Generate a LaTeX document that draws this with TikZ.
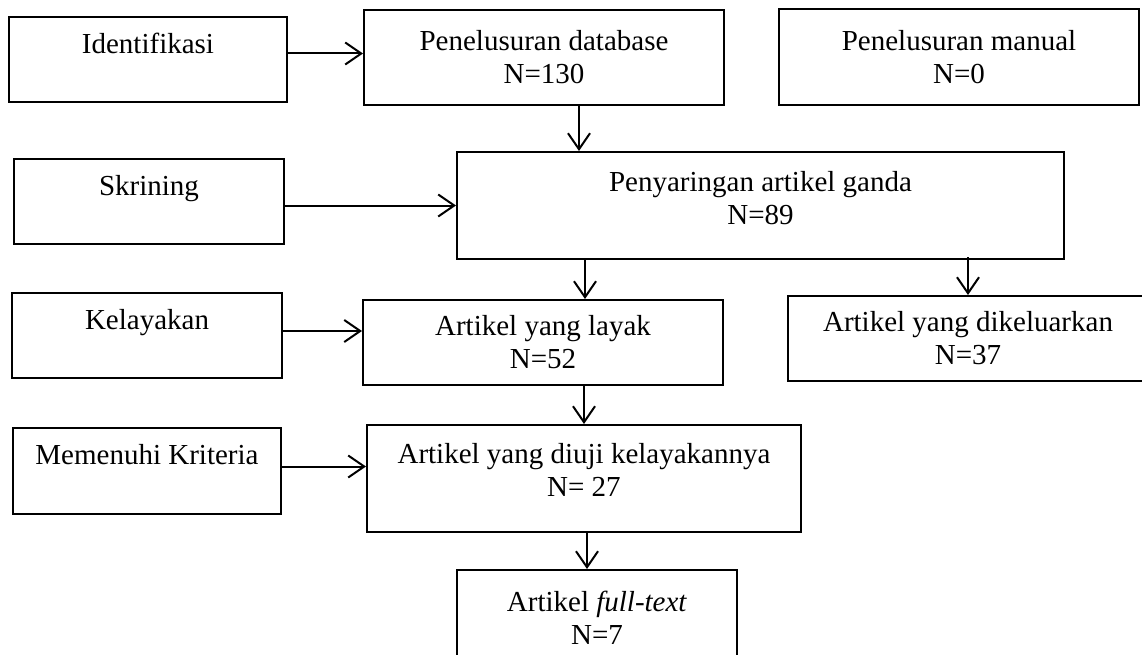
\documentclass[tikz,border=0pt]{standalone}
\usepackage{fontspec}
\setmainfont{Liberation Serif}
\usetikzlibrary{arrows.meta,positioning}
\tikzset{>={Straight Barb[length=16pt,width=22pt]}}
\tikzset{kotak/.style={draw=black, line width=2pt, align=center, inner sep=0pt, font=\fontsize{29}{33}\selectfont}}

\begin{document}
\begin{tikzpicture}[x=1pt,y=-1pt,line width=2pt]
\useasboundingbox (0,0) rectangle (1142,655);
% tahapan di kiri
\node[kotak, minimum width=278pt, minimum height=85pt] (ident) at (148,59.5) {Identifikasi\\ \mbox{}};
\node[kotak, minimum width=270pt, minimum height=85pt] (skrin) at (149,201.5) {Skrining\\ \mbox{}};
\node[kotak, minimum width=270pt, minimum height=85pt] (kelay) at (147,335.5) {Kelayakan\\ \mbox{}};
\node[kotak, minimum width=268pt, minimum height=86pt] (memen) at (147,471) {Memenuhi Kriteria\\ \mbox{}};
% hasil penelusuran
\node[kotak, minimum width=360pt, minimum height=95pt] (db) at (544,57.5) {Penelusuran database\\ N=130};
\node[kotak, minimum width=360pt, minimum height=96pt] (manual) at (959,57) {Penelusuran manual\\ N=0};
\node[kotak, minimum width=607pt, minimum height=107pt, text depth=15pt] (pany) at (760.5,205.5) {Penyaringan artikel ganda\\ N=89};
\node[kotak, minimum width=360pt, minimum height=85pt] (layak) at (543,342.5) {Artikel yang layak\\ N=52};
\node[kotak, minimum width=360pt, minimum height=85pt] (dikel) at (968,338.5) {Artikel yang dikeluarkan\\ N=37};
\node[kotak, minimum width=434pt, minimum height=107pt, text depth=17pt] (diuji) at (584,478.5) {Artikel yang diuji kelayakannya\\ N= 27};
\node[kotak, minimum width=280pt, minimum height=96pt] (fullt) at (597,618) {Artikel \textit{full-text}\\ N=7};
% panah
\draw[->] ([yshift=6pt]ident.east) -- ([yshift=6pt]ident.east -| db.west);
\draw[->] ([yshift=-4pt]skrin.east) -- ([yshift=-4pt]skrin.east -| pany.west);
\draw[->] ([yshift=4.5pt]kelay.east) -- ([yshift=4.5pt]kelay.east -| layak.west);
\draw[->] ([yshift=4.5pt]memen.east) -- ([yshift=4.5pt]memen.east -| diuji.west);
\draw[->] ([xshift=35pt]db.south) -- ([xshift=35pt]db.south |- pany.north);
\draw[->] ([xshift=42pt]layak.north |- pany.south) -- ([xshift=42pt]layak.north);
\draw[->] ([yshift=3pt]dikel.north |- pany.south) -- (dikel.north);
\draw[->] (diuji.north |- layak.south) -- (diuji.north);
\draw[->] ([xshift=3pt]diuji.south) -- ([xshift=3pt]diuji.south |- fullt.north);
\end{tikzpicture}
\end{document}
